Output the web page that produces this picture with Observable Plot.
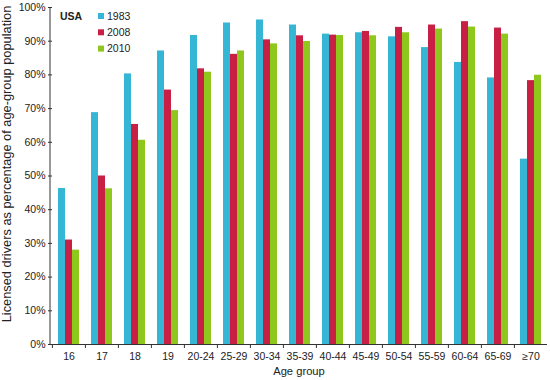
<!DOCTYPE html>
<html><head><meta charset="utf-8">
<script src="https://cdn.jsdelivr.net/npm/d3@7"></script>
<script src="https://cdn.jsdelivr.net/npm/@observablehq/plot@0.6"></script>
<style>
body{margin:0;background:#fff;}
#wrap{position:relative;width:550px;height:380px;font-family:"Liberation Sans",Arial,sans-serif;}
</style></head><body><div id="wrap"></div>
<script>
const ages = ["16","17","18","19","20-24","25-29","30-34","35-39","40-44","45-49","50-54","55-59","60-64","65-69","≥70"];
const years = ["1983","2008","2010"];
const v1983 = [46.3,68.8,80.3,87.1,91.7,95.4,96.3,94.8,92.1,92.5,91.3,88.1,83.7,79.1,55.0];
const v2008 = [31.0,50.0,65.3,75.5,81.8,86.1,90.4,91.6,91.8,92.9,94.1,94.8,95.8,93.9,78.3];
const v2010 = [28.0,46.2,60.6,69.4,80.8,87.1,89.2,89.9,91.7,91.6,92.5,93.6,94.2,92.1,79.9];
const colors = ["#35b6d4","#c81f45","#8ec81c"];
const yTicks = [0,10,20,30,40,50,60,70,80,90,100];
const yTitle = "Licensed drivers as percentage of age-group population";
const xTitle = "Age group";
const legendTitle = "USA";

const series = [v1983, v2008, v2010];
const data = ages.flatMap((a, i) => series.map((s, k) => ({age: a, year: years[k], value: s[i]})));

const W = 550, H = 380, mL = 50, mR = 2, mT = 7, mB = 36;
const step = (W - mL - mR) / ages.length;

const chart = Plot.plot({
  width: W, height: H,
  marginLeft: mL, marginRight: mR, marginTop: mT, marginBottom: mB,
  style: {fontFamily: "'Liberation Sans', Arial, sans-serif", fontSize: "10.5px", color: "#222", background: "#fff"},
  fx: {domain: ages, padding: 0, label: null},
  x: {domain: years, paddingInner: 0, paddingOuter: 0.76, axis: null},
  y: {domain: [0, 100], label: null},
  color: {domain: years, range: colors},
  marks: [
    Plot.barY(data, {fx: "age", x: "year", y: "value", fill: "year"}),
    Plot.ruleY([0], {stroke: "#333"}),
    Plot.axisY({ticks: yTicks, tickSize: 4, tickPadding: 3, tickFormat: d => d + "%", label: null, stroke: "#333"}),
    Plot.axisFx({anchor: "bottom", tickSize: 4, dx: -step / 2, text: null, label: null, stroke: "#333"}),
    Plot.axisFx({anchor: "bottom", tickSize: 0, tickPadding: 8, label: null})
  ]
});

document.getElementById("wrap").appendChild(chart);

const svg = d3.select(chart);
const fxs = chart.scale("fx");
const ys = chart.scale("y");
const x0 = fxs.range[0], x1 = fxs.range[1];
svg.append("line").attr("x1", x0).attr("x2", x0).attr("y1", ys.range[0]).attr("y2", ys.range[1]).attr("stroke", "#333");

svg.append("text").attr("transform", `translate(10.5,164) rotate(-90)`)
  .attr("text-anchor", "middle").attr("font-size", 12.8).attr("fill", "#222").text(yTitle);
svg.append("text").attr("x", (x0 + x1) / 2).attr("y", 375).attr("text-anchor", "middle")
  .attr("font-size", 11.2).attr("fill", "#222").text(xTitle);

const lg = svg.append("g").attr("text-anchor", "start");
lg.append("text").attr("x", 60).attr("y", 19.5).attr("font-size", 10.5).attr("font-weight", "bold").attr("fill", "#222").text(legendTitle);
years.forEach((yr, k) => {
  lg.append("rect").attr("x", 98).attr("y", 13 + k * 16.3).attr("width", 6).attr("height", 6).attr("fill", colors[k]);
  lg.append("text").attr("x", 107).attr("y", 19.5 + k * 16.3).attr("font-size", 10.5).attr("fill", "#222").text(yr);
});
</script></body></html>
